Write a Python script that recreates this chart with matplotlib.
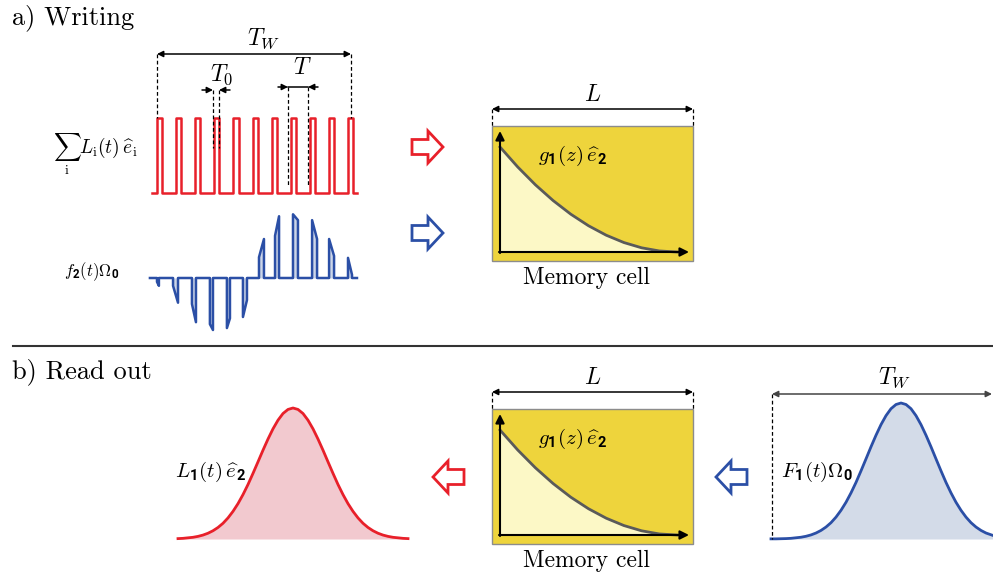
import matplotlib
matplotlib.use('Agg')
import matplotlib.pyplot as plt
from matplotlib.transforms import Affine2D
from matplotlib.patches import Polygon, Rectangle

plt.rcParams['mathtext.fontset'] = 'custom'
plt.rcParams['mathtext.rm'] = 'cmr10'
plt.rcParams['mathtext.it'] = 'cmmi10'
plt.rcParams['mathtext.bf'] = 'Roboto:bold'
plt.rcParams['mathtext.cal'] = 'cmsy10'
plt.rcParams['mathtext.fallback'] = 'cm'
plt.rcParams['font.family'] = 'cmr10'
plt.rcParams['axes.unicode_minus'] = False

RED = '#e8202a'
BLUE = '#2b4fa6'
YELLOW = '#eed43c'
PALE = '#fcf8c6'

# ---- data ----
# red pulse train, times in units of the period T
red_starts = [0, 1, 2, 3, 4, 5, 6, 7, 8, 9, 10]
red_width = 0.27            # T0 / T
red_span = (-0.26, 10.47)

# blue modulated pulses: start / end time and amplitude at both ends
blue_starts = [0.00, 0.84, 1.83, 2.77, 3.66, 4.50, 5.34, 6.18, 7.12, 8.12, 9.01, 10.00]
blue_ends = [0.10, 1.10, 2.04, 2.93, 3.82, 4.71, 5.60, 6.39, 7.38, 8.38, 9.27, 10.21]
blue_amp_a = [-0.06, -0.12, -0.40, -0.71, -0.77, -0.60, 0.32, 0.65, 0.98, 0.89, 0.60, 0.31]
blue_amp_b = [-0.12, -0.38, -0.68, -0.80, -0.62, -0.34, 0.60, 0.95, 0.89, 0.60, 0.34, 0.05]
blue_span = (-0.37, 10.47)

# stored spin wave g1(z) along the cell, z in units of L
cell_z = [0, 0.1, 0.2, 0.3, 0.4, 0.5, 0.6, 0.7, 0.8, 0.9, 1.0]
cell_g = [1.0, 0.81, 0.64, 0.49, 0.36, 0.25, 0.16, 0.09, 0.04, 0.01, 0.0]

# read-out pulses (offset from the peak in px of time, normalised height)
red_bell_t = [-115, -110, -105, -100, -95, -90, -85, -80, -75, -70, -65, -60, -55, -50,
              -45, -40, -35, -30, -25, -20, -15, -10, -5, 0, 5, 10, 15, 20, 25, 30, 35,
              40, 45, 50, 55, 60, 65, 70, 75, 80, 85, 90, 95, 100, 105, 110, 115]
red_bell_h = [0.003, 0.005, 0.009, 0.013, 0.020, 0.030, 0.044, 0.063, 0.088, 0.120, 0.161,
              0.211, 0.270, 0.339, 0.416, 0.501, 0.589, 0.678, 0.763, 0.841, 0.907, 0.958,
              0.989, 1.0, 0.989, 0.958, 0.907, 0.841, 0.763, 0.678, 0.589, 0.501, 0.416,
              0.339, 0.270, 0.211, 0.161, 0.120, 0.088, 0.063, 0.044, 0.030, 0.020, 0.013,
              0.009, 0.005, 0.003]
blue_bell_t = [-130, -125, -120, -115, -110, -105, -100, -95, -90, -85, -80, -75, -70, -65,
               -60, -55, -50, -45, -40, -35, -30, -25, -20, -15, -10, -5, 0, 5, 10, 15,
               20, 25, 30, 35, 40, 45, 50, 55, 60, 65, 70, 75, 80, 85, 92]
blue_bell_h = [0.001, 0.001, 0.002, 0.003, 0.005, 0.009, 0.013, 0.020, 0.030, 0.044, 0.063,
               0.088, 0.120, 0.161, 0.211, 0.270, 0.339, 0.416, 0.501, 0.589, 0.678, 0.763,
               0.841, 0.907, 0.958, 0.989, 1.0, 0.989, 0.958, 0.907, 0.841, 0.763, 0.678,
               0.589, 0.501, 0.416, 0.339, 0.270, 0.211, 0.161, 0.120, 0.088, 0.063, 0.044,
               0.026]

fig = plt.figure(figsize=(9.93, 5.75), dpi=100)
ax = fig.add_axes([0, 0, 1, 1])
ax.set_xlim(0, 993)
ax.set_ylim(575, 0)
ax.axis('off')


def frame(sx, sy, x0, y0):
    return Affine2D().scale(sx, sy).translate(x0, y0) + ax.transData


def arrow(x0, y0, x1, y1, style='-|>', lw=1.2, ms=12, color='k'):
    ax.annotate('', xy=(x1, y1), xytext=(x0, y0),
                arrowprops=dict(arrowstyle=style, color=color, lw=lw,
                                mutation_scale=ms, shrinkA=0, shrinkB=0))


def vdash(x, y0, y1, color='k'):
    ax.plot([x, x], [y0, y1], color=color, lw=0.9, ls=(0, (3, 2)))


def block_arrow(cx, cy, direction, color):
    pts = [(-15.5, -7.5), (0.5, -7.5), (0.5, -16), (15.5, 0),
           (0.5, 16), (0.5, 7.5), (-15.5, 7.5)]
    pts = [(cx + direction * px, cy + py) for px, py in pts]
    ax.add_patch(Polygon(pts, closed=True, fill=False, edgecolor=color, lw=2, joinstyle='miter'))


def memory_cell(top):
    ax.add_patch(Rectangle((492, top), 201, 135, facecolor=YELLOW, edgecolor='#8c8c8c', lw=1))
    ox, oy = 500, top + 126
    tr = frame(177, -105, ox, oy)
    ax.fill_between(cell_z, cell_g, 0, color=PALE, lw=0, transform=tr)
    ax.plot(cell_z, cell_g, color='#5a5a5a', lw=2, transform=tr)
    arrow(ox, oy + 1, ox, top + 5, lw=1.5, ms=13)
    arrow(ox - 1, oy, 689, oy, lw=1.5, ms=13)
    ax.text(573, top + 30, r'$g_{\mathbf{1}}(z)\,\widehat{e}_{\mathbf{2}}$', fontsize=15,
            ha='center', va='center')
    # L dimension
    arrow(492, top - 17, 693, top - 17, style='<|-|>', lw=1.1, ms=9)
    vdash(492, top - 17, top)
    vdash(693, top - 17, top)
    ax.text(593, top - 31, r'$L$', fontsize=17, ha='center', va='center')
    ax.text(586, top + 152, 'Memory cell', fontsize=17, ha='center', va='center')


# ---- a) writing ----
ax.text(12, 18, 'a) Writing', fontsize=19, ha='left', va='center')

tr_red = frame(19.1, -75, 157, 193)
xs, ys = [red_span[0]], [0]
for s in red_starts:
    xs += [s, s, s + red_width, s + red_width]
    ys += [0, 1, 1, 0]
xs.append(red_span[1])
ys.append(0)
ax.plot(xs, ys, color=RED, lw=1.8, transform=tr_red)

tr_blue = frame(19.1, -65, 157, 278)
xs, ys = [blue_span[0]], [0]
for s, e, a, b in zip(blue_starts, blue_ends, blue_amp_a, blue_amp_b):
    xs += [s, s, e, e]
    ys += [0, a, b, 0]
xs.append(blue_span[1])
ys.append(0)
ax.fill_between(xs, ys, 0, color='#cdd6e8', lw=0, transform=tr_blue)
ax.plot(xs, ys, color=BLUE, lw=1.8, transform=tr_blue)

# T_W, T0 and T dimensions
arrow(157, 54, 351, 54, style='<|-|>', lw=1.1, ms=9)
vdash(157, 54, 118)
vdash(351, 54, 118)
ax.text(264, 39, r'$T_W$', fontsize=17, ha='center', va='center')

vdash(213, 90, 148)
vdash(219, 90, 148)
arrow(202, 90, 213, 90, lw=1.1, ms=9)
arrow(230, 90, 219, 90, lw=1.1, ms=9)
ax.text(222, 75, r'$T_{\mathit{0}}$', fontsize=17, ha='center', va='center')

vdash(288, 87, 187)
vdash(308, 87, 187)
ax.plot([288, 308], [87, 87], color='k', lw=1.1)
arrow(278, 87, 288, 87, lw=1.1, ms=9)
arrow(318, 87, 308, 87, lw=1.1, ms=9)
ax.text(302, 68, r'$T$', fontsize=17, ha='center', va='center')

ax.text(95, 154, r'$\sum_{\mathrm{i}}L_{\mathrm{i}}(t)\,\widehat{e}_{\mathrm{i}}$', fontsize=14,
        ha='center', va='center')
ax.text(92, 272, r'$f_{\mathbf{2}}(t)\Omega_{\mathbf{0}}$', fontsize=12, ha='center', va='center')

block_arrow(427.5, 147, 1, RED)
block_arrow(427.5, 233, 1, BLUE)
memory_cell(126)

# separator
ax.plot([13, 993], [346, 346], color='#333333', lw=1.5)

# ---- b) read out ----
ax.text(12, 372, 'b) Read out', fontsize=19, ha='left', va='center')

tr_rb = frame(1, -131, 293, 539)
ax.fill_between(red_bell_t, red_bell_h, 0, color='#f2c9cf', lw=0, transform=tr_rb)
ax.plot(red_bell_t, red_bell_h, color=RED, lw=2, transform=tr_rb)
ax.text(211, 472, r'$L_{\mathbf{1}}(t)\,\widehat{e}_{\mathbf{2}}$', fontsize=15, ha='center', va='center')

memory_cell(409)
block_arrow(448.5, 477, -1, RED)
block_arrow(731.5, 477, -1, BLUE)

tr_bb = frame(1, -136, 901, 539)
ax.fill_between(blue_bell_t, blue_bell_h, 0, color='#d3dbe8', lw=0, transform=tr_bb)
ax.plot(blue_bell_t, blue_bell_h, color=BLUE, lw=2, transform=tr_bb)
arrow(772, 394, 992, 394, style='<|-|>', lw=1.1, ms=9, color='#444444')
vdash(772, 394, 539)
ax.text(895, 378, r'$T_W$', fontsize=17, ha='center', va='center')
ax.text(817, 472, r'$F_{\mathbf{1}}(t)\Omega_{\mathbf{0}}$', fontsize=15, ha='center', va='center')

fig.savefig('out.png', dpi=100)
